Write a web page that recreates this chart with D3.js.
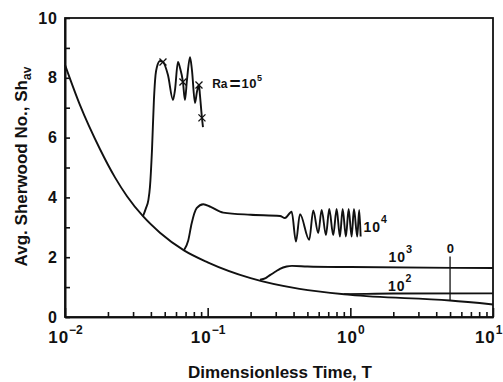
<!DOCTYPE html>
<html>
<head>
<meta charset="utf-8">
<script src="https://cdnjs.cloudflare.com/ajax/libs/d3/7.8.5/d3.min.js"></script>
<style>
body { margin: 0; background: #fff; }
svg text { font-family: "Liberation Sans", Arial, sans-serif; font-weight: bold; fill: #111; }
</style>
</head>
<body>
<div id="chart"></div>
<script>
var svgWidth = 503;
var svgHeight = 382;

var margin = {
    top: 18,
    right: 10,
    bottom: 65,
    left: 65
};

var width = svgWidth - margin.left - margin.right;
var height = svgHeight - margin.top - margin.bottom;

// Conduction curve (Ra = 0)
var conductionT  = [0.01, 0.0127, 0.0176, 0.0224, 0.0272, 0.0352, 0.0463, 0.0682, 0.1, 0.2, 0.44, 1, 5, 10];
var conductionSh = [8.43, 7.1, 5.61, 4.67, 4.04, 3.37, 2.82, 2.23, 1.83, 1.3, 0.94, 0.74, 0.55, 0.42];

// Ra = 10^2
var ra1e2T  = [0.9, 1.3, 2, 10];
var ra1e2Sh = [0.766, 0.775, 0.785, 0.79];

// Ra = 10^3
var ra1e3T  = [0.2326, 0.255, 0.2733, 0.30, 0.3211, 0.3578, 0.39, 0.5, 1, 10];
var ra1e3Sh = [1.25, 1.30, 1.40, 1.52, 1.61, 1.69, 1.71, 1.69, 1.67, 1.64];

// Ra = 10^4
var ra1e4T  = [0.0682, 0.0730, 0.0772, 0.0837, 0.0931, 0.105, 0.1286, 0.20, 0.3217, 0.348, 0.388, 0.4157, 0.4436,
               0.5152, 0.5495, 0.5957, 0.6294, 0.6745, 0.7115, 0.7588, 0.8017, 0.8453, 0.8834, 0.9312, 0.9730,
               1.021, 1.060, 1.118, 1.154, 1.181];
var ra1e4Sh = [2.23, 2.55, 3.13, 3.64, 3.77, 3.68, 3.49, 3.42, 3.38, 3.31, 3.52, 2.52, 3.44,
               2.58, 3.56, 2.81, 3.58, 2.74, 3.61, 2.74, 3.61, 2.69, 3.61, 2.69, 3.61,
               2.69, 3.61, 2.69, 3.58, 2.69];

// Ra = 10^5
var ra1e5T  = [0.0352, 0.0370, 0.0384, 0.0394, 0.0407, 0.0420, 0.0431, 0.0441, 0.0463, 0.0486, 0.0527, 0.0571, 0.0590,
               0.0619, 0.0640, 0.0671, 0.0693, 0.0716, 0.0752, 0.0776, 0.0815, 0.0841, 0.0869, 0.0883, 0.0912, 0.0927];
var ra1e5Sh = [3.37, 3.65, 3.91, 4.35, 5.57, 7.26, 8.09, 8.36, 8.56, 8.53, 8.09, 7.26, 7.59,
               8.53, 8.33, 7.86, 7.26, 7.93, 8.69, 8.26, 7.16, 7.53, 7.76, 7.42, 6.66, 6.35];

// x marks on the Ra = 10^5 curve
var markT  = [0.0486, 0.0671, 0.0869, 0.0912];
var markSh = [8.53, 7.86, 7.76, 6.66];

// leader line under the "0" label
var leaderT  = [5, 5];
var leaderSh = [2.02, 0.55];

// ticks
var xTickValues = [0.01, 0.1, 1, 10];
var xTickExponents = ["\u22122", "\u22121", "0", "1"];
var yTickValues = [0, 2, 4, 6, 8, 10];
var yMinorValues = [1, 3, 5, 7, 9];

function zipSeries(ts, shs) {
    return ts.map(function(t, i) { return {T: t, Sh: shs[i]}; });
}

var svg = d3.select("#chart")
    .append("svg")
    .attr("width", svgWidth)
    .attr("height", svgHeight);

var chartGroup = svg.append("g")
    .attr("transform", `translate(${margin.left}, ${margin.top})`);

// scales
var xLogScale = d3.scaleLog()
    .domain([0.01, 10])
    .range([0, width]);

var yLinearScale = d3.scaleLinear()
    .domain([0, 10])
    .range([height, 0]);

// bottom axis, ticks pointing inward
var bottomAxis = d3.axisBottom(xLogScale)
    .tickValues(xTickValues)
    .tickSizeInner(-9)
    .tickSizeOuter(0)
    .tickPadding(14)
    .tickFormat("");

var xMinor = xLogScale.ticks().filter(function(t) { return xTickValues.indexOf(t) < 0; });
var bottomMinor = d3.axisBottom(xLogScale)
    .tickValues(xMinor)
    .tickSizeInner(-5)
    .tickSizeOuter(0)
    .tickFormat("");

var leftAxis = d3.axisLeft(yLinearScale)
    .tickValues(yTickValues)
    .tickSizeInner(-5)
    .tickSizeOuter(0)
    .tickPadding(7);

var leftMinor = d3.axisLeft(yLinearScale)
    .tickValues(yMinorValues)
    .tickSizeInner(-5)
    .tickSizeOuter(0)
    .tickFormat("");

var xAxisG = chartGroup.append("g")
    .attr("transform", `translate(0, ${height})`)
    .call(bottomAxis);
chartGroup.append("g")
    .attr("transform", `translate(0, ${height})`)
    .call(bottomMinor);

var yAxisG = chartGroup.append("g")
    .call(leftAxis);
chartGroup.append("g")
    .call(leftMinor);

chartGroup.selectAll(".domain, .tick line")
    .attr("stroke", "#111")
    .attr("stroke-width", 1.6);

// x tick labels: 10 with superscript
xAxisG.selectAll(".tick text")
    .attr("font-size", 17)
    .attr("font-family", null)
    .each(function(d, i) {
        var t = d3.select(this);
        t.append("tspan").attr("letter-spacing", 1).text("10");
        t.append("tspan")
            .attr("dy", -9)
            .attr("font-size", 12)
            .text(xTickExponents[i]);
        // keep the last label inside the picture
        if (i === xTickValues.length - 1) {
            t.attr("text-anchor", "end").attr("x", margin.right - 1);
        }
    });

yAxisG.selectAll(".tick text")
    .attr("font-size", 16)
    .attr("letter-spacing", 1);

// frame
chartGroup.append("rect")
    .attr("width", width)
    .attr("height", height)
    .attr("fill", "none")
    .attr("stroke", "#111")
    .attr("stroke-width", 1.8);

// curves
var line = d3.line()
    .x(d => xLogScale(d.T))
    .y(d => yLinearScale(d.Sh))
    .curve(d3.curveMonotoneX);

var series = [
    zipSeries(conductionT, conductionSh),
    zipSeries(ra1e2T, ra1e2Sh),
    zipSeries(ra1e3T, ra1e3Sh),
    zipSeries(ra1e4T, ra1e4Sh),
    zipSeries(ra1e5T, ra1e5Sh)
];

chartGroup.selectAll(".curve")
    .data(series)
    .enter()
    .append("path")
    .classed("curve", true)
    .attr("d", line)
    .attr("fill", "none")
    .attr("stroke", "#111")
    .attr("stroke-width", 1.9)
    .attr("stroke-linejoin", "round");

// x markers
chartGroup.selectAll(".mark")
    .data(zipSeries(markT, markSh))
    .enter()
    .append("path")
    .classed("mark", true)
    .attr("transform", d => `translate(${xLogScale(d.T)}, ${yLinearScale(d.Sh)})`)
    .attr("d", "M-3.5,-3.5L3.5,3.5M-3.5,3.5L3.5,-3.5")
    .attr("fill", "none")
    .attr("stroke", "#111")
    .attr("stroke-width", 1.3);

// leader line for Ra = 0
chartGroup.append("path")
    .attr("d", d3.line().x(d => xLogScale(d.T)).y(d => yLinearScale(d.Sh))(zipSeries(leaderT, leaderSh)))
    .attr("stroke", "#111")
    .attr("stroke-width", 1.3);

// curve labels
function supLabel(t, sh, base, sup, size, supSize, rise) {
    var txt = chartGroup.append("text")
        .attr("x", xLogScale(t))
        .attr("y", yLinearScale(sh))
        .attr("font-size", size);
    txt.append("tspan").attr("letter-spacing", 1).text(base);
    if (sup) {
        txt.append("tspan")
            .attr("dy", -rise)
            .attr("font-size", supSize)
            .text(sup);
    }
    return txt;
}

supLabel(1.237, 2.85, "10", "4", 14, 10.5, 9);
supLabel(1.852, 1.85, "10", "3", 14, 11, 8.5);
supLabel(1.834, 0.88, "10", "2", 14, 10.5, 9);

chartGroup.append("text")
    .attr("x", xLogScale(5.03))
    .attr("y", yLinearScale(2.15))
    .attr("text-anchor", "middle")
    .attr("font-size", 13)
    .text("0");

var raLabel = chartGroup.append("text")
    .attr("x", xLogScale(0.1075))
    .attr("y", yLinearScale(7.65))
    .attr("font-size", 12);
raLabel.append("tspan").text("Ra");
raLabel.append("tspan").attr("dx", 2).attr("font-size", 19).attr("dy", 1.5).text("=");
raLabel.append("tspan").attr("dx", 1).attr("dy", -1.5).attr("font-size", 13).attr("letter-spacing", 0.5).text("10");
raLabel.append("tspan").attr("dy", -7).attr("font-size", 9).text("5");

// axis titles
chartGroup.append("text")
    .attr("x", width / 2 + 1)
    .attr("y", height + 61)
    .attr("text-anchor", "middle")
    .attr("font-size", 17)
    .text("Dimensionless Time, T");

var yTitle = chartGroup.append("text")
    .attr("transform", `translate(${27 - margin.left}, ${height / 2 - 1}) rotate(-90)`)
    .attr("text-anchor", "middle")
    .attr("font-size", 17);
yTitle.append("tspan").text("Avg. Sherwood No., Sh");
yTitle.append("tspan").attr("dy", 4).attr("font-size", 12).text("av");
</script>
</body>
</html>
